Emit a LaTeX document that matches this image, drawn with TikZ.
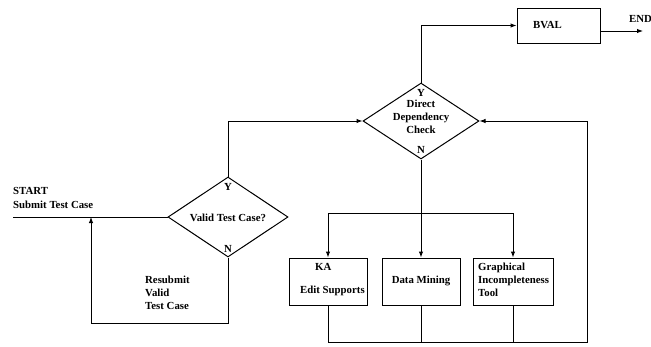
\documentclass[tikz,border=0pt]{standalone}
\usepackage{fontspec}
\setmainfont{Liberation Serif}
\usetikzlibrary{shapes.geometric,arrows.meta}
\begin{document}
\begin{tikzpicture}[x=1pt,y=-1pt,
  ln/.style={line width=1pt},
  arr/.style={ln,-{Latex[length=6pt,width=4.5pt]}},
  dia/.style={diamond,draw,ln,inner sep=0pt},
  boxnode/.style={draw,rectangle,ln,inner sep=0pt},
  lbl/.style={font=\fontsize{10.8}{13}\selectfont\bfseries,inner sep=0pt}]
\useasboundingbox (0,0) rectangle (651,346);
% shapes
\node[dia,minimum width=120pt,minimum height=80pt] (valid) at (228,217) {};
\node[dia,minimum width=116pt,minimum height=76pt] (dd) at (421,121) {};
\node[boxnode,minimum width=83pt,minimum height=35pt] (bval) at (558.5,25.5) {};
\node[boxnode,minimum width=78pt,minimum height=47pt] (ka) at (328,281.5) {};
\node[boxnode,minimum width=78pt,minimum height=47pt] (dm) at (421,281.5) {};
\node[boxnode,minimum width=80pt,minimum height=47pt] (gi) at (513,281.5) {};
% coordinates
\coordinate (start) at (13,217);
\coordinate (rb) at (91,323);
\coordinate (rt) at (91,217);
\coordinate (j) at (421,213);
\coordinate (br) at (587,342);
\coordinate (eo) at (600,31);
\coordinate (ee) at (643,31);
% texts
\node[lbl,anchor=west] (tstart) at (13,191) {START};
\node[lbl,anchor=west] (tsubmit) at (13,205) {Submit Test Case};
\node[lbl] (tvalid) at (228,218) {Valid Test Case?};
\node[lbl] (vy) at (228,187) {Y};
\node[lbl] (vn) at (228,249) {N};
\node[lbl] (ddy) at (421,93) {Y};
\node[lbl] (ddn) at (421,150) {N};
\node[lbl,align=center] (tdd) at (421,117) {Direct\\Dependency\\Check};
\node[lbl,anchor=west] (tbval) at (533,25) {BVAL};
\node[lbl,anchor=west] (tend) at (629,19) {END};
\node[lbl,anchor=west,align=left] (tresub) at (145,293) {Resubmit\\Valid\\Test Case};
\node[lbl,anchor=west] (tka) at (315,267) {KA};
\node[lbl,anchor=west] (tedit) at (300,291) {Edit Supports};
\node[lbl] (tdm) at (421,281) {Data Mining};
\node[lbl,anchor=west,align=left] (tgi) at (478,280) {Graphical\\Incompleteness\\Tool};
% connectors
\draw[ln] (start) -- (valid.west);
\draw[arr] (valid.north) |- (dd.west);
\draw[arr] (dd.north) |- (bval.west);
\draw[arr] (eo) -- (ee);
\draw[arr] (valid.south) |- (rb) -- (rt);
\draw[arr] (dd.south) -- (dm.north);
\draw[arr] (j) -| (ka.north);
\draw[arr] (j) -| (gi.north);
\draw[arr] (ka.south) |- (br) |- (dd.east);
\draw[ln] (dm.south) -- (dm.south |- br);
\draw[ln] (gi.south) -- (gi.south |- br);
\end{tikzpicture}
\end{document}
